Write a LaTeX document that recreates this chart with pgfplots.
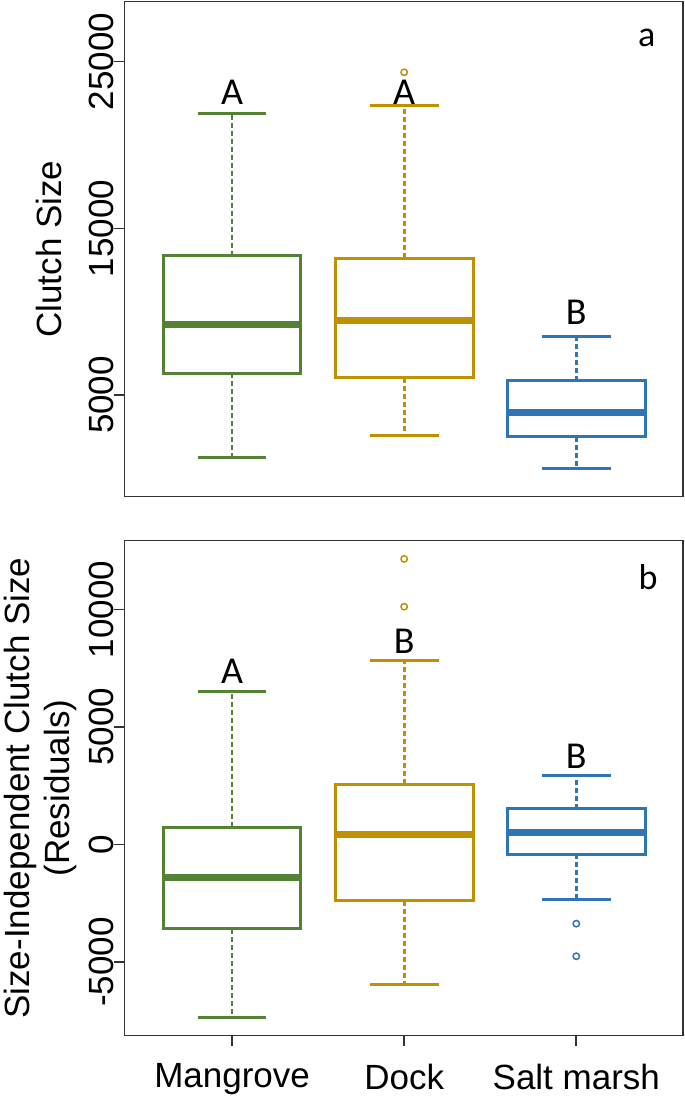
\documentclass[border=0pt]{standalone}
\usepackage{fontspec}
\setmainfont{Liberation Sans}
\newfontfamily\calfont{Carlito}
\usepackage{pgfplots}
\pgfplotsset{compat=1.18}
\definecolor{cgreen}{HTML}{548235}
\definecolor{cgold}{HTML}{BF9000}
\definecolor{cblue}{HTML}{2E75B6}
\definecolor{frame}{HTML}{333333}
\newcommand{\bigfont}{\fontsize{35pt}{40pt}\selectfont}
\newcommand{\letfont}{\calfont\fontsize{38pt}{40pt}\selectfont}
\pgfplotsset{
  myaxis/.style={
    scale only axis, width=558.5pt, height=495pt,
    xmin=0.375, xmax=3.62,
    axis line style={draw=frame, line width=1.6pt},
    tick style={draw=frame, line width=1.6pt},
    major tick length=10pt, tick align=outside,
    ytick pos=left, xtick pos=bottom,
    scaled y ticks=false, scaled x ticks=false,
    yticklabel style={rotate=90, anchor=south, inner sep=0pt, font=\bigfont},
    xticklabel style={inner sep=0pt, anchor=north, yshift=-18pt, font=\bigfont},
    label style={font=\bigfont},
    clip=false,
  },
  boxs/.style={line width=3pt, mark=none, line join=miter},
  meds/.style={line width=7pt, mark=none},
  whis/.style={line width=2.7pt, mark=none, dash pattern=on 5pt off 3pt},
  caps/.style={line width=3pt, mark=none},
  outl/.style={only marks, mark=o, mark size=3.2pt, mark options={line width=1.5pt}},
}
\begin{document}
\begin{tikzpicture}
\path[use as bounding box] (0,0) rectangle (685pt,1101pt);
% ---------- panel a ----------
\begin{axis}[myaxis, at={(124.5pt,604.3pt)}, anchor=south west,
  ymin=-1100, ymax=28600,
  ytick={5000,15000,25000}, yticklabels={5000,15000,25000},
  xtick=\empty,
  ylabel={Clutch Size},
  every axis y label/.style={at={(axis description cs:-0.135,0.5)}, rotate=90, anchor=center, font=\bigfont},
]
% Mangrove
\addplot[cgreen, whis] coordinates {(1,13360) (1,21862)};
\addplot[cgreen, whis] coordinates {(1,6304) (1,1264)};
\addplot[cgreen, caps] coordinates {(0.8,21862) (1.2,21862)};
\addplot[cgreen, caps] coordinates {(0.8,1264) (1.2,1264)};
\addplot[cgreen, boxs] coordinates {(0.6,6304) (1.4,6304) (1.4,13360) (0.6,13360)} -- cycle;
\addplot[cgreen, meds] coordinates {(0.6,9202) (1.4,9202)};
% Dock
\addplot[cgold, whis] coordinates {(2,13204) (2,22342)};
\addplot[cgold, whis] coordinates {(2,6040) (2,2560)};
\addplot[cgold, caps] coordinates {(1.8,22342) (2.2,22342)};
\addplot[cgold, caps] coordinates {(1.8,2560) (2.2,2560)};
\addplot[cgold, boxs] coordinates {(1.6,6040) (2.4,6040) (2.4,13204) (1.6,13204)} -- cycle;
\addplot[cgold, meds] coordinates {(1.6,9460) (2.4,9460)};
% Salt marsh
\addplot[cblue, whis] coordinates {(3,5842) (3,8500)};
\addplot[cblue, whis] coordinates {(3,2482) (3,604)};
\addplot[cblue, caps] coordinates {(2.8,8500) (3.2,8500)};
\addplot[cblue, caps] coordinates {(2.8,604) (3.2,604)};
\addplot[cblue, boxs] coordinates {(2.6,2482) (3.4,2482) (3.4,5842) (2.6,5842)} -- cycle;
\addplot[cblue, meds] coordinates {(2.6,3964) (3.4,3964)};
\addplot[outl, cgold] coordinates {(2,24364)};
\node[font=\letfont] at (axis cs:1,23152) {A};
\node[font=\letfont] at (axis cs:2,23152) {A};
\node[font=\letfont] at (axis cs:3,9982) {B};
\node[font=\calfont\fontsize{36pt}{40pt}\selectfont] at (axis cs:3.41,26422) {a};
\end{axis}
% ---------- panel b ----------
\begin{axis}[myaxis, at={(124.5pt,65.4pt)}, anchor=south west,
  ymin=-8136, ymax=12931,
  ytick={-5000,0,5000,10000}, yticklabels={-5000,0,5000,10000},
  xtick={1,2,3}, xticklabels={Mangrove,Dock,Salt marsh},
  ylabel={Size-Independent Clutch Size\\(Residuals)},
  every axis y label/.style={at={(axis description cs:-0.151,0.5)}, rotate=90, anchor=center, align=center, font=\bigfont},
]
% Mangrove
\addplot[cgreen, whis] coordinates {(1,725) (1,6492)};
\addplot[cgreen, whis] coordinates {(1,-3593) (1,-7359)};
\addplot[cgreen, caps] coordinates {(0.8,6492) (1.2,6492)};
\addplot[cgreen, caps] coordinates {(0.8,-7359) (1.2,-7359)};
\addplot[cgreen, boxs] coordinates {(0.6,-3593) (1.4,-3593) (1.4,725) (0.6,725)} -- cycle;
\addplot[cgreen, meds] coordinates {(0.6,-1402) (1.4,-1402)};
% Dock
\addplot[cgold, whis] coordinates {(2,2569) (2,7816)};
\addplot[cgold, whis] coordinates {(2,-2395) (2,-5941)};
\addplot[cgold, caps] coordinates {(1.8,7816) (2.2,7816)};
\addplot[cgold, caps] coordinates {(1.8,-5941) (2.2,-5941)};
\addplot[cgold, boxs] coordinates {(1.6,-2395) (2.4,-2395) (2.4,2569) (1.6,2569)} -- cycle;
\addplot[cgold, meds] coordinates {(1.6,410) (2.4,410)};
% Salt marsh
\addplot[cblue, whis] coordinates {(3,1513) (3,2931)};
\addplot[cblue, whis] coordinates {(3,-410) (3,-2348)};
\addplot[cblue, caps] coordinates {(2.8,2931) (3.2,2931)};
\addplot[cblue, caps] coordinates {(2.8,-2348) (3.2,-2348)};
\addplot[cblue, boxs] coordinates {(2.6,-410) (3.4,-410) (3.4,1513) (2.6,1513)} -- cycle;
\addplot[cblue, meds] coordinates {(2.6,488) (3.4,488)};
\addplot[outl, cgold] coordinates {(2,12150) (2,10117)};
\addplot[outl, cblue] coordinates {(3,-3372) (3,-4759)};
\node[font=\letfont] at (axis cs:1,7375) {A};
\node[font=\letfont] at (axis cs:2,8635) {B};
\node[font=\letfont] at (axis cs:3,3766) {B};
\node[font=\calfont\fontsize{36pt}{40pt}\selectfont] at (axis cs:3.417,11374) {b};
\end{axis}
\end{tikzpicture}
\end{document}
